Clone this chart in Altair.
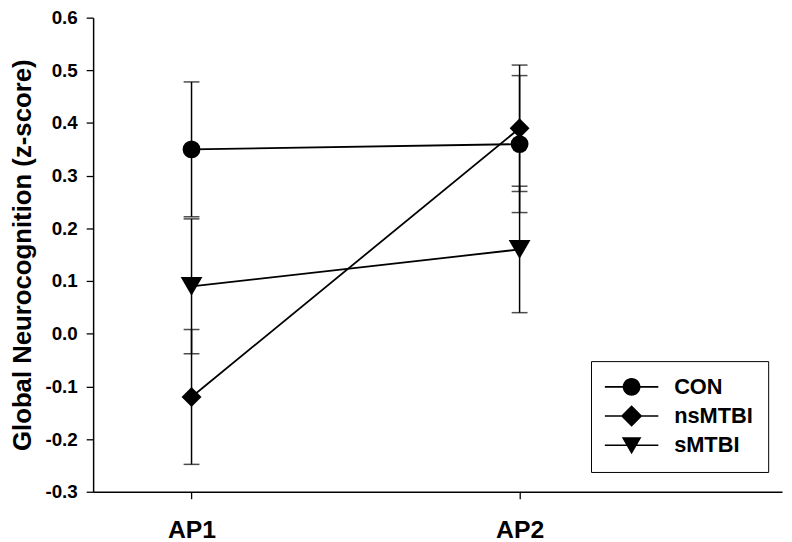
import altair as alt
import pandas as pd

groups = ["CON", "nsMTBI", "sMTBI"]
times = [1, 2]
time_labels = ["AP1", "AP2"]
mean_ap1 = [0.35, -0.12, 0.09]
mean_ap2 = [0.36, 0.39, 0.16]
se_ap1 = [0.128, 0.128, 0.128]
se_ap2 = [0.13, 0.12, 0.12]

rows = []
for i, g in enumerate(groups):
    rows.append({"group": g, "time": times[0], "mean": mean_ap1[i], "se": se_ap1[i]})
    rows.append({"group": g, "time": times[1], "mean": mean_ap2[i], "se": se_ap2[i]})
df = pd.DataFrame(rows)

FONT = "Liberation Sans"

# legend symbols: short line (thin filled bar) with marker in the middle
# (unit coordinates, 1 unit = 9px)
bar_path = "M-1.33,-0.09H4.67V0.09H-1.33Z"
leg_circle = bar_path + "M0.67,0A1,1 0 1,1 2.67,0A1,1 0 1,1 0.67,0Z"
leg_diamond = bar_path + "M1.67,-1.2L2.87,0L1.67,1.2L0.47,0Z"
leg_tri = bar_path + "M0.57,-0.9L2.77,-0.9L1.67,1.0Z"

label_expr = "datum.value == 1 ? '" + time_labels[0] + "' : '" + time_labels[1] + "'"

x_enc = alt.X("time:Q",
              scale=alt.Scale(domain=[0.7, 2.8], nice=False, zero=False),
              axis=alt.Axis(values=times, title=None, grid=False,
                            labelExpr=label_expr,
                            labelFont=FONT, labelFontSize=25, labelFontWeight="bold",
                            labelColor="black", labelPadding=19, tickSize=7,
                            tickColor="black", domainColor="black", tickWidth=1.3,
                            domainWidth=1.5))
y_enc = alt.Y("mean:Q",
              scale=alt.Scale(domain=[-0.3, 0.6], nice=False, zero=False),
              axis=alt.Axis(values=[-0.3, -0.2, -0.1, 0.0, 0.1, 0.2, 0.3, 0.4, 0.5, 0.6],
                            title="Global Neurocognition (z-score)", grid=False,
                            labelExpr="replace(format(datum.value, '.1f'), '\u2212', '-')",
                            labelFont=FONT, labelFontSize=19, labelFontWeight="bold",
                            labelColor="black", labelPadding=9, tickSize=7,
                            tickColor="black", domainColor="black", tickWidth=1.3,
                            domainWidth=1.5,
                            titleFont=FONT, titleFontSize=26, titleFontWeight="bold",
                            titleColor="black", titlePadding=10))

base = alt.Chart(df)

lines = base.mark_line(color="black", strokeWidth=1.8).encode(
    x=x_enc, y=y_enc, detail="group:N")

bars = base.transform_calculate(
    lo="datum.mean - datum.se", hi="datum.mean + datum.se"
).mark_rule(color="black", strokeWidth=1.5).encode(
    x="time:Q", y="lo:Q", y2="hi:Q")

caps_lo = base.transform_calculate(lo="datum.mean - datum.se").mark_tick(
    color="black", orient="horizontal", size=16, thickness=1.5).encode(
    x="time:Q", y="lo:Q")
caps_hi = base.transform_calculate(hi="datum.mean + datum.se").mark_tick(
    color="black", orient="horizontal", size=16, thickness=1.5).encode(
    x="time:Q", y="hi:Q")

points = base.mark_point(filled=True, color="black", opacity=1).encode(
    x="time:Q", y="mean:Q",
    shape=alt.Shape("group:N", scale=alt.Scale(domain=groups,
                    range=["circle", "diamond", "triangle-down"]), legend=None),
    size=alt.Size("group:N", scale=alt.Scale(domain=groups, range=[324, 484, 361]),
                  legend=None))

legend_layer = base.transform_filter("false").mark_point(
    filled=True, color="black", opacity=1).encode(
    x="time:Q", y="mean:Q",
    shape=alt.Shape("group:N", scale=alt.Scale(domain=groups,
                    range=[leg_circle, leg_diamond, leg_tri]),
                    legend=alt.Legend(title=None, orient="none", legendX=503, legendY=347,
                                      symbolSize=324, symbolFillColor="black",
                                      symbolOpacity=1,
                                      labelFont=FONT, labelFontSize=22,
                                      labelFontWeight="bold", labelColor="black",
                                      labelOffset=47, padding=15, rowPadding=3.5,
                                      strokeColor="black", fillColor="white",
                                      cornerRadius=0)))

chart = alt.layer(lines, bars, caps_lo, caps_hi, points, legend_layer).resolve_scale(
    shape="independent"
).properties(
    width=696, height=479,
    autosize=alt.AutoSizeParams(type="none"),
    padding={"left": 86, "top": 7, "right": 2, "bottom": 48},
    background="white"
).configure_view(stroke=None)

chart.save("out.html", embed_options={"renderer": "svg", "actions": False})
